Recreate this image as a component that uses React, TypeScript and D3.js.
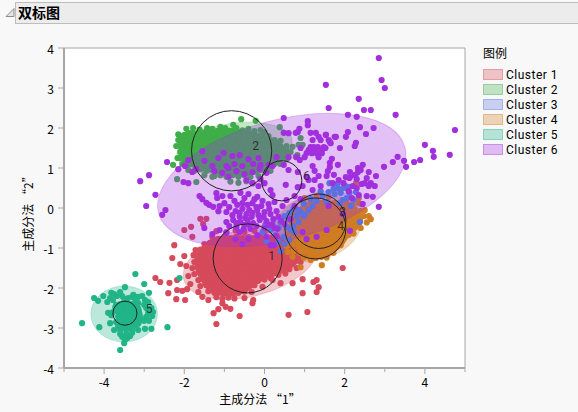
import React from "react";
import * as d3 from "d3";

type P = [number, number];

const clusterNames = ["Cluster 1", "Cluster 2", "Cluster 3", "Cluster 4", "Cluster 5", "Cluster 6"];
const clusterColors = ["#d64a5b", "#3fae49", "#5a70e2", "#d07c22", "#20b487", "#a12fdd"];
const xTicks = [-4, -2, 0, 2, 4];
const xMinorTicks = [-5, -3, -1, 1, 3, 5];
const yTicks = [-4, -3, -2, -1, 0, 1, 2, 3, 4];

// centre x, centre y, semi-axis a, semi-axis b, tilt in degrees
const ellipseCx = [-0.35, -0.75, 1.35, 1.25, -3.5, 0.43];
const ellipseCy = [-1.35, 1.5, -0.35, -0.5, -2.65, 0.7];
const ellipseA = [1.72, 1.45, 1.15, 1.2, 0.83, 3.18];
const ellipseB = [0.85, 0.62, 0.72, 0.8, 0.7, 1.5];
const ellipseTilt = [15, 8, 18, 15, 0, 15];

// correlation circles
const circleCx = [-0.42, -0.82, 1.35, 1.27, -3.48, 0.43];
const circleCy = [-1.26, 1.43, -0.33, -0.51, -2.63, 0.68];
const circleR = [0.86, 1.0, 0.68, 0.76, 0.3, 0.5];
const labelX = [0.18, -0.22, 1.95, 1.9, -2.88, 1.05];
const labelY = [-1.22, 1.52, -0.13, -0.46, -2.55, 0.77];

// outlines of the regions where the points overlap into a solid mass
const core1: P[] = [[-1.6,-1.0],[-1.2,-.72],[-.5,-.68],[.2,-.72],[.7,-.9],[.95,-1.2],[.75,-1.45],[.4,-1.65],[-.1,-1.85],[-.45,-2.1],[-.9,-2.22],[-1.35,-2.1],[-1.6,-1.8],[-1.75,-1.4]];
const core2: P[] = [[-2.1,1.85],[-1.6,1.95],[-.8,2.0],[-.1,1.85],[.4,1.65],[.55,1.35],[.35,1.08],[0,.92],[-.5,.78],[-1,.82],[-1.6,.95],[-2.05,1.15],[-2.15,1.5]];
const core4: P[] = [[.55,-.6],[.7,-.15],[1.0,.1],[1.5,.2],[2.0,.1],[2.35,-.1],[2.45,-.35],[2.15,-.65],[1.95,-.95],[1.65,-1.15],[1.25,-1.28],[.85,-1.2],[.55,-.95]];
const core5: P[] = [[-3.6,-2.4],[-3.2,-2.35],[-3.05,-2.6],[-3.1,-2.95],[-3.5,-3.05],[-3.7,-2.75]];
const cores: { i: number; pts: P[] }[] = [
  { i: 0, pts: core1 },
  { i: 1, pts: core2 },
  { i: 3, pts: core4 },
  { i: 4, pts: core5 },
];

const cluster1: P[] = [
  [-2.25,-.93],[-2.3,-1.25],[-2.1,-1.4],[-2.72,-1.75],[-2.6,-1.85],[-2.37,-1.87],[-2.18,-1.8],[-2.4,-2.13],[-2.2,-2.28],[-1.98,-2.3],
  [-2.18,-2.05],[-2.05,-2.07],[-1.93,-2.03],[-1.83,-.47],[-1.8,-.72],[-2,-.55],[-1.6,-.27],[-1.45,-.27],[-1.53,-.4],[-1.72,-1.05],[-1.77,-1.18],
  [-1.15,-2.53],[-.97,-2.47],[-.85,-2.52],[-.28,-2.3],[-.3,-2.38],[.7,-1.88],[.95,-1.78],[1.3,-1.8],[1.22,-1.85],[1.35,-1.98],[1.3,-2.1],[.95,-2.13],
  [1.95,-1.5],[.4,-1.88],[.15,-1.75],[-1.27,-2.63],[-.62,-2.7],[-1.2,-2.9],[.6,-2.67],[1.07,-2.6],[-1.9,-1.7],[-1.95,-1.45],[-2.0,-1.2],[-1.85,-1.9],
  [-1.3,-.72],[-1.15,-.77],[-1,-.73],[-.84,-.78],[-.7,-.72],[-.55,-.76],[-.4,-.73],[-.25,-.78],[-.1,-.72],[.05,-.77],[.2,-.73],[.36,-.78],[.6,-.74],
  [-1.5,-.9],[-1.36,-.87],[-1.2,-.92],[-1.06,-.88],[-.9,-.91],[-.76,-.87],[-.6,-.92],[-.45,-.88],[-.3,-.91],[-.15,-.87],[0,-.92],[.16,-.88],[.3,-.91],[.46,-.87],[.7,-.92],
  [-1.6,-1.04],[-1.45,-1.07],[-1.3,-1.03],[-1.16,-1.06],[-1,-1.03],[-.86,-1.07],[-.7,-1.04],[-.55,-1.06],[-.4,-1.03],[-.24,-1.07],[-.1,-1.04],[.06,-1.06],[.2,-1.03],[.36,-1.07],[.5,-1.04],[.66,-1.06],[.8,-1.03],
  [-1.7,-1.2],[-1.55,-1.18],[-1.4,-1.22],[-1.25,-1.19],[-1.1,-1.21],[-.95,-1.18],[-.8,-1.22],[-.65,-1.19],[-.5,-1.21],[-.35,-1.18],[-.2,-1.22],[-.05,-1.19],[.1,-1.21],[.25,-1.18],[.4,-1.22],[.55,-1.19],[.7,-1.21],[.85,-1.19],[1,-1.22],
  [-1.75,-1.35],[-1.6,-1.33],[-1.46,-1.37],[-1.3,-1.34],[-1.16,-1.36],[-1,-1.33],[-.85,-1.37],[-.7,-1.34],[-.56,-1.36],[-.4,-1.33],[-.25,-1.37],[-.1,-1.34],[.05,-1.36],[.2,-1.33],[.35,-1.37],[.5,-1.34],[.65,-1.36],[.9,-1.35],
  [-1.8,-1.5],[-1.65,-1.48],[-1.5,-1.52],[-1.36,-1.49],[-1.2,-1.51],[-1.06,-1.48],[-.9,-1.52],[-.76,-1.49],[-.6,-1.51],[-.46,-1.48],[-.3,-1.52],[-.16,-1.49],[0,-1.51],[.15,-1.48],[.3,-1.52],[.45,-1.49],[.62,-1.53],[.8,-1.5],
  [-1.75,-1.65],[-1.6,-1.63],[-1.45,-1.67],[-1.3,-1.64],[-1.15,-1.66],[-1,-1.63],[-.85,-1.67],[-.7,-1.64],[-.55,-1.66],[-.4,-1.63],[-.25,-1.67],[-.1,-1.64],[.05,-1.66],[.2,-1.63],[.35,-1.67],[.52,-1.64],
  [-1.65,-1.8],[-1.5,-1.78],[-1.36,-1.82],[-1.2,-1.79],[-1.06,-1.81],[-.9,-1.78],[-.76,-1.82],[-.6,-1.79],[-.46,-1.81],[-.3,-1.78],[-.16,-1.82],[0,-1.79],[.2,-1.8],
  [-1.6,-1.95],[-1.45,-1.93],[-1.3,-1.97],[-1.15,-1.94],[-1,-1.96],[-.85,-1.93],[-.7,-1.97],[-.55,-1.94],[-.4,-1.96],[-.25,-1.93],[-.05,-1.97],
  [-1.65,-2.1],[-1.4,-2.08],[-1.25,-2.12],[-1.1,-2.09],[-.95,-2.11],[-.8,-2.08],[-.65,-2.12],[-.5,-2.09],[-.32,-2.1],
  [-1.55,-2.22],[-1.2,-2.23],[-1.05,-2.27],[-.9,-2.24],[-.75,-2.26],[-.5,-2.25],[-1.4,-2.3],[-1.05,-2.38],
  [-1.2,-.58],[-.95,-.6],[-.72,-.56],[-.5,-.6],[-.25,-.57],[0,-.6],
];

const cluster2: P[] = [
  [-1.43,2.0],[-1.1,2.03],[-.98,2.0],[-.78,2.08],[-.58,2.22],[-.22,2.18],[.38,2.02],[.9,1.75],[.85,1.58],[.7,1.53],[.78,1.28],[.95,1.58],[.65,1.4],[.82,1.32],[.55,1.45],
  [-2.28,1.08],[-2.17,1.25],[-2.18,.72],[-1.7,.65],[-1.25,.8],
  [-1.95,1.98],[-1.78,2.0],[-1.62,1.96],[-1.45,1.9],[-1.3,1.98],[-1.15,1.93],[-1,1.97],[-.85,1.92],[-.7,2.0],[-.55,1.94],[-.4,1.98],[-.25,1.92],[-.1,1.95],[0,1.9],
  [-2.15,1.84],[-2,1.82],[-1.85,1.87],[-1.7,1.83],[-1.55,1.85],[-1.4,1.8],[-1.25,1.85],[-1.1,1.81],[-.95,1.85],[-.8,1.8],[-.65,1.85],[-.5,1.8],[-.35,1.85],[-.2,1.81],[-.05,1.85],[.1,1.8],
  [-2.15,1.7],[-2,1.67],[-1.85,1.72],[-1.7,1.68],[-1.55,1.7],[-1.4,1.66],[-1.25,1.71],[-1.1,1.67],[-.95,1.7],[-.8,1.66],[-.65,1.71],[-.5,1.67],[-.35,1.7],[-.2,1.66],[-.05,1.71],[.1,1.67],[.25,1.7],[.4,1.68],
  [-2.2,1.55],[-2.05,1.53],[-1.9,1.57],[-1.75,1.53],[-1.6,1.56],[-1.45,1.52],[-1.3,1.56],[-1.15,1.52],[-1,1.55],[-.85,1.52],[-.7,1.56],[-.55,1.52],[-.4,1.55],[-.25,1.52],[-.1,1.56],[.05,1.52],[.2,1.55],[.35,1.52],[.55,1.55],
  [-2.1,1.4],[-1.95,1.38],[-1.8,1.42],[-1.65,1.38],[-1.5,1.41],[-1.35,1.37],[-1.2,1.41],[-1.05,1.37],[-.9,1.4],[-.75,1.37],[-.6,1.41],[-.45,1.37],[-.3,1.4],[-.15,1.37],[0,1.41],[.15,1.37],[.3,1.4],[.45,1.37],[.6,1.38],
  [-2.1,1.25],[-1.95,1.23],[-1.8,1.27],[-1.65,1.23],[-1.5,1.26],[-1.35,1.22],[-1.2,1.26],[-1.05,1.22],[-.9,1.25],[-.75,1.22],[-.6,1.26],[-.45,1.22],[-.3,1.25],[-.15,1.22],[0,1.26],[.15,1.22],[.3,1.25],[.55,1.22],
  [-2.05,1.1],[-1.9,1.08],[-1.75,1.12],[-1.6,1.08],[-1.45,1.11],[-1.3,1.07],[-1.15,1.11],[-1,1.07],[-.85,1.1],[-.7,1.07],[-.55,1.11],[-.4,1.07],[-.25,1.1],[-.1,1.07],[.05,1.11],[.2,1.07],[.4,1.1],
  [-1.9,.95],[-1.75,.93],[-1.6,.97],[-1.45,.93],[-1.3,.96],[-1.15,.92],[-1,.96],[-.85,.92],[-.7,.95],[-.55,.92],[-.4,.96],[-.25,.92],[-.1,.95],[.15,.93],
  [-1.5,.82],[-1.3,.78],[-1.1,.82],[-.95,.78],[-.8,.82],[-.65,.78],[-.5,.82],[-.35,.78],[-.15,.8],
  [-.85,.66],[-.65,.63],[-.45,.67],[-.3,.62],
];

const cluster3: P[] = [
  [.15,-.93],[.23,-.93],[.4,-1.08],[-.05,-.6],[.4,-.35],[.6,-.28],[.85,-.35],[.98,-.2],[.15,-.55],[.28,-.68],[.48,-.72],[.66,-.55],[.35,-.5],[.55,-.48],[.75,-.6],
  [.72,-.02],[.85,-.05],[.98,.1],[1.1,-.05],[1.0,-.18],[.8,-.2],[.62,-.12],[1.62,.62],[1.82,.6],[1.98,.5],[2.12,.38],[1.9,.38],[2.02,.55],[1.72,.48],[2.22,.2],
  [2.38,-.35],[1.45,.3],[1.3,.18],[1.15,.22],[1.55,.15],[2.05,.25],[2.28,.4],[2.15,.05],[1.95,.2],[1.75,.35],[1.88,.12],[.35,-.85],[.05,-.82],[.5,-.9],[.62,-.8],
  [.5,-.2],[.72,-.45],[.9,-.1],[1.2,.05],[1.4,.42],[1.6,.4],[1.85,.48],[2.1,.52],[.2,-.4],[.02,-.42],
];

const cluster4: P[] = [
  [1.0,.25],[1.3,.3],[1.6,.28],[2.28,.62],[2.35,.25],[2.42,.1],[2.5,-.05],[.9,-1.48],[1.43,-1.43],[1.15,-1.3],[2.6,-.2],[2.65,-.28],
  [1,.1],[1.15,.13],[1.3,.08],[1.45,.12],[1.6,.09],[1.75,.13],[1.9,.08],[2.05,.12],[2.2,.09],[2.35,.12],
  [.9,-.05],[1.05,-.03],[1.2,-.07],[1.35,-.04],[1.5,-.06],[1.65,-.03],[1.8,-.07],[1.95,-.04],[2.1,-.06],[2.25,-.03],[2.4,-.07],
  [.8,-.2],[.95,-.18],[1.1,-.22],[1.25,-.19],[1.4,-.21],[1.55,-.18],[1.7,-.22],[1.85,-.19],[2,-.21],[2.15,-.18],[2.3,-.22],[2.48,-.2],
  [.7,-.35],[.85,-.33],[1,-.37],[1.15,-.34],[1.3,-.36],[1.45,-.33],[1.6,-.37],[1.75,-.34],[1.9,-.36],[2.05,-.33],[2.2,-.37],[2.35,-.34],[2.55,-.36],
  [.6,-.5],[.75,-.48],[.9,-.52],[1.05,-.49],[1.2,-.51],[1.35,-.48],[1.5,-.52],[1.65,-.49],[1.8,-.51],[1.95,-.48],[2.1,-.52],[2.25,-.49],[2.4,-.5],
  [.6,-.65],[.75,-.63],[.9,-.67],[1.05,-.64],[1.2,-.66],[1.35,-.63],[1.5,-.67],[1.65,-.64],[1.8,-.66],[1.95,-.63],[2.1,-.67],[2.22,-.64],
  [.58,-.8],[.72,-.78],[.88,-.82],[1.02,-.79],[1.18,-.81],[1.32,-.78],[1.48,-.82],[1.62,-.79],[1.78,-.81],[1.95,-.78],
  [.55,-.95],[.7,-.93],[.85,-.97],[1,-.94],[1.15,-.96],[1.3,-.93],[1.45,-.97],[1.6,-.94],[1.75,-.96],[1.9,-.93],
  [.58,-1.1],[.72,-1.08],[.88,-1.12],[1.02,-1.09],[1.18,-1.11],[1.32,-1.08],[1.48,-1.12],[1.62,-1.09],[1.72,-1.12],
  [.7,-1.22],[.98,-1.24],[1.12,-1.21],[1.28,-1.25],[1.42,-1.22],[1.55,-1.24],
];

const cluster5: P[] = [
  [-3.22,-1.65],[-3.0,-1.9],[-3.48,-1.98],[-3.27,-2.17],[-4.25,-2.25],[-4.15,-2.32],[-4.02,-2.2],[-3.92,-2.35],[-3.82,-2.12],[-3.75,-2.15],[-3.68,-2.2],
  [-3.85,-2.25],[-3.78,-2.3],[-3.6,-2.1],[-3.3,-2.22],[-3.15,-2.22],[-3.05,-2.2],[-2.88,-2.12],[-3.5,-2.27],[-3.4,-2.25],[-3.22,-2.3],[-2.98,-2.3],
  [-3.6,-2.4],[-3.45,-2.38],[-3.3,-2.4],[-3.15,-2.38],[-3.0,-2.42],[-2.9,-2.35],[-3.72,-2.48],[-3.58,-2.52],[-3.42,-2.5],[-3.3,-2.52],[-3.15,-2.52],
  [-2.95,-2.5],[-2.82,-2.5],[-2.78,-2.6],[-2.8,-2.7],[-3.9,-2.62],[-3.82,-2.68],[-3.78,-2.6],[-3.65,-2.6],[-3.52,-2.62],[-3.4,-2.62],[-3.28,-2.65],
  [-3.12,-2.68],[-3.65,-2.72],[-3.5,-2.75],[-3.35,-2.72],[-3.2,-2.78],[-3.08,-2.78],[-2.95,-2.72],[-3.0,-2.82],[-2.88,-2.82],[-4.55,-2.88],[-4.12,-2.98],
  [-3.85,-2.88],[-3.7,-2.85],[-3.65,-2.95],[-3.4,-2.85],[-3.28,-2.9],[-3.15,-2.88],[-3.5,-2.98],[-3.75,-3.05],[-3.6,-3.05],[-3.45,-3.05],[-3.3,-3.05],
  [-3.15,-3.05],[-2.98,-3.02],[-2.82,-3.02],[-2.42,-2.98],[-3.6,-3.15],[-3.45,-3.15],[-3.3,-3.12],[-3.55,-3.22],[-3.42,-3.25],[-3.35,-3.2],[-3.48,-3.3],
  [-3.5,-3.38],[-3.6,-3.55],[-2.12,-1.75],[-3.55,-2.2],[-3.7,-2.42],[-3.25,-2.62],[-3.6,-2.85],[-3.42,-2.95],[-2.9,-2.62],
];

const cluster6: P[] = [
  [2.85,3.75],[2.92,3.2],[3,3],[1.53,3.08],[2.35,2.73],[1.6,2.5],[2.48,2.45],[2.65,2.45],[2.08,2.33],[2.3,2.28],[3.27,2.33],[4.75,1.95],[4,1.58],[4.2,1.43],[4.22,1.28],[4.62,1.33],
  [3.88,1.2],[3.73,1.15],[3.48,1.18],[3.53,1.03],[3.2,1.15],[3.32,1.28],[2.98,1.03],[2.72,2],[2.53,1.85],[2.38,2.02],[2.08,1.9],[2.03,1.78],[2.28,1.63],[2.25,1.55],[1.88,1.5],[1.75,1.78],[1.63,1.65],[1.53,1.83],
  [1.08,2.17],[1.08,2.07],[1.68,1.23],[1.63,1.13],[1.83,1.08],[2.45,1.08],[2.33,1],[2.13,.9],[2.4,.95],[1.73,.83],[2.6,.9],[2.78,.8],[2.55,.75],[2.3,.72],[2.65,.62],[2.75,.55],
  [.48,2.25],[.48,1.88],[.6,1.87],[.83,1.9],[.87,1.98],[.78,1.88],[1.28,1.88],[1.15,1.88],[1.53,1.83],[1.2,1.7],[1.4,1.7],[1.35,1.78],[1.6,1.7],[1.65,1.62],[1.78,1.78],
  [1.15,1.52],[1.23,1.52],[1.33,1.52],[1.48,1.52],[1.1,1.45],[1.27,1.45],[1.43,1.45],[1.52,1.5],[1.05,1.37],[1.18,1.37],[1.3,1.37],[1.43,1.37],[1.35,1.27],[1,1.27],[.9,1.5],[.8,1.27],[.6,1.27],[.88,1.2],
  [.3,1.27],[1.2,1.05],[1.25,.93],[1.05,.78],[1.63,1.02],[1.58,.92],[2.03,.77],[2.18,.82],[2.27,.83],[2.33,.9],[2.12,.75],[1.97,.62],[2.5,.62],[2.6,.55],[2.42,.6],[2.2,.55],[2.3,.5],
  [.2,1.05],[.48,1.08],[.6,.95],[.83,.9],[.15,.45],[.53,.58],[.83,.52],
  [-.8,1.3],[-.95,1.05],[-1.02,1.38],[-.62,1.32],[-.4,1.22],[-.28,1.1],[-1.55,1.42],[-1.9,1.2],[-1.98,1.05],[-1.5,1.18],[-1.7,.98],[-1.3,1.05],[-1.15,1.25],[-.75,1.1],[-.55,1.05],[-.15,1.25],[-.1,1.07],[.1,1.08],
  [-1.25,.92],[-1.05,.88],[-.9,1.0],[-.7,.92],[-.5,.85],[-.3,.9],[-.12,.98],[.05,.88],[-.9,.78],[-.45,.7],[-.3,.62],[-.15,.55],[0,.62],
  [-2.43,1.15],[-2.88,.82],[-2.15,.97],[-3.1,.67],[-2.72,.33],[-2.95,.05],[-2.47,-.05],[-2.55,-.17],[-2.02,.65],[-1.9,.62],[-1.8,.9],
  [-1.62,.3],[-1.55,.22],[-1.45,.13],[-1.38,.08],[-1.2,.37],[-1.18,.25],[-1.05,.3],[-1.28,.03],[-1.12,.05],[-1,.12],[-1.15,-.08],[-.95,-.1],[-.85,.3],[-.75,.18],[-.6,.38],[-.68,.08],[-.5,.25],[-.4,.35],[-.3,.12],[-.18,.28],[-.55,-.02],
  [-.38,-.05],[-.2,.02],[-.05,.18],[.1,.1],[.2,.32],[-.62,-.22],[-.45,-.15],[-.3,-.12],[-.15,-.18],[0,-.1],[.12,-.02],[.3,-.08],[.45,.05],[.55,.2],[.75,.3],[-.95,-.35],[-.78,-.3],[-.6,-.35],[-.42,-.3],[-.28,-.38],[-.12,-.3],[.05,-.33],[.22,-.28],[.35,-.22],
  [-.88,-.45],[-.7,-.48],[-.5,-.42],[-.35,-.52],[-.2,-.45],[.0,-.5],[.18,-.42],[.32,-.52],[.5,-.4],[.65,-.28],[-1.12,-.55],[-.95,-.62],[-.62,-.6],[-.72,-.78],[-.18,-.68],[.05,-.72],[.3,-.7],[-.55,-.9],[-.4,-.78],[-1.3,-.65],[-1.5,-.5],
  [-.62,-.12],[-.48,-.25],[-.32,-.22],[-.18,-.05],[-.02,-.22],[.15,-.15],[-.72,-.08],[-.88,.02],[-.8,-.18],[-.55,.12],[-.42,.08],[-.25,.22],[-.08,.05],[.25,.15],[-.7,-.38],[-.52,-.52],[-.38,-.42],[.1,-.42],[.25,-.5],[.42,-.32],
  [.15,-.93],[.23,-.93],[1.1,.7],[1.25,.7],[1.4,.55],[1.55,.8],[1.35,.8],[.95,.55],[1.2,.45],[.9,.22],[.75,.05],[1.7,.62],[1.85,.7],[2.1,.42],[2.35,.32],[2.55,.3],[2.45,.1],[2.18,.25],[1.95,-.15],[1.6,.05],
  [1.05,-.78],[1.3,-.72],[1.55,-.55],[.95,-.6],[2.85,.03],[2.13,-.57],[2.7,.28],[-.1,.72],
];

const series: P[][] = [cluster1, cluster2, cluster3, cluster4, cluster5, cluster6];

const margin = { left: 64, right: 465, top: 48, bottom: 368 };
const x = d3.scaleLinear().domain([-5, 5]).range([margin.left, margin.right]);
const y = d3.scaleLinear().domain([-4, 4]).range([margin.bottom, margin.top]);
const coreLine = d3
  .line<P>()
  .x((d) => x(d[0]))
  .y((d) => y(d[1]))
  .curve(d3.curveCardinalClosed);

const cjk = "'Noto Sans CJK SC','Noto Sans',sans-serif";
const latin = "Roboto,'Noto Sans',sans-serif";
const axisGray = "#a6a6a6";
const underOrder = [0, 1, 3, 4];
const overOrder = [2, 5];

function Points({ i }: { i: number }) {
  return (
    <g fill={clusterColors[i]}>
      {series[i].map((p, k) => (
        <circle key={k} cx={x(p[0])} cy={y(p[1])} r={3.1} />
      ))}
    </g>
  );
}

function Ell({ i }: { i: number }) {
  const cx = x(ellipseCx[i]);
  const cy = y(ellipseCy[i]);
  return (
    <ellipse
      cx={cx}
      cy={cy}
      rx={x(ellipseA[i]) - x(0)}
      ry={y(0) - y(ellipseB[i])}
      transform={`rotate(${-ellipseTilt[i]} ${cx} ${cy})`}
      fill={clusterColors[i]}
      fillOpacity={0.3}
      stroke={clusterColors[i]}
      strokeOpacity={0.25}
    />
  );
}

export default function App() {
  return (
    <svg width={578} height={412} style={{ position: "absolute", left: 0, top: 0, background: "#f8f8f8" }} fontFamily={cjk}>
      <rect x={15.5} y={2.5} width={570} height={21} fill="#ececec" stroke="#bdbdbd" />
      <path d="M6 16.5 L14 16.5 L14 8.5 Z" fill="#e4e4e4" stroke="#8c8c8c" />
      <text x={18} y={18} fontSize={14} fontWeight={700} fill="#000">双标图</text>

      <rect x={margin.left} y={margin.top} width={margin.right - margin.left} height={margin.bottom - margin.top} fill="#fff" />

      {[0, 1, 4, 2, 3].map((i) => <Ell key={i} i={i} />)}
      {cores.map((c) => (
        <path key={c.i} d={coreLine(c.pts) ?? ""} fill={clusterColors[c.i]} />
      ))}
      {underOrder.map((i) => <Points key={i} i={i} />)}
      <Ell i={5} />
      {overOrder.map((i) => <Points key={i} i={i} />)}

      {clusterNames.map((_, i) => (
        <g key={i}>
          <circle cx={x(circleCx[i])} cy={y(circleCy[i])} r={x(circleR[i]) - x(0)} fill="none" stroke="#222" strokeWidth={1} />
          <text x={x(labelX[i])} y={y(labelY[i])} fontFamily={latin} fontSize={12} fill="#222" fillOpacity={0.85} textAnchor="middle" dominantBaseline="middle">{i + 1}</text>
        </g>
      ))}

      <g stroke={axisGray} fill="none">
        <path d={`M${margin.left} ${margin.top}H${margin.right}`} strokeWidth={1} />
        <path d={`M${margin.right} ${margin.top}V${margin.bottom}`} strokeWidth={1} />
        <path d={`M${margin.left} ${margin.top}V${margin.bottom}`} strokeWidth={2} />
        <path d={`M${margin.left} ${margin.bottom}H${margin.right}`} strokeWidth={2} />
        {yTicks.map((t) => <path key={t} d={`M${margin.left - 6} ${y(t)}H${margin.left}`} />)}
        {xTicks.map((t) => <path key={t} d={`M${x(t)} ${margin.bottom}V${margin.bottom + 6}`} />)}
        {xMinorTicks.map((t) => <path key={t} d={`M${x(t)} ${margin.bottom}V${margin.bottom + 4}`} />)}
      </g>

      <g fontSize={12} fill="#000">
        {yTicks.map((t) => (
          <text key={t} x={54} y={y(t)} textAnchor="end" dominantBaseline="central">{t}</text>
        ))}
        {xTicks.map((t) => (
          <text key={t} x={x(t)} y={387} textAnchor="middle">{t}</text>
        ))}
        <text x={260} y={404} textAnchor="middle">主成分法 “1”</text>
        <text transform="translate(33,211) rotate(-90)" textAnchor="middle">主成分法 “2”</text>
      </g>

      <text x={483} y={58} fontSize={12} fill="#000">图例</text>
      {clusterNames.map((name, i) => (
        <g key={name}>
          <rect x={483.5} y={69.5 + i * 15} width={19} height={10} fill={clusterColors[i]} fillOpacity={0.3} stroke={clusterColors[i]} strokeOpacity={0.45} />
          <text x={506} y={79 + i * 15} fontFamily={latin} fontSize={12} letterSpacing={0.5} fill="#000">{name}</text>
        </g>
      ))}
    </svg>
  );
}
